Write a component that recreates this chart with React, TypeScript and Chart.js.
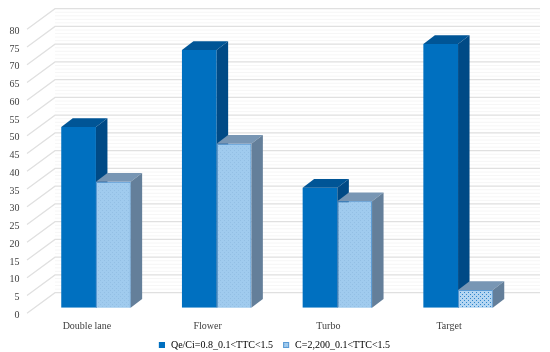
import React, { useEffect, useRef } from "react";
import { Chart, registerables } from "chart.js";

Chart.register(...registerables);

const categories = ["Double lane", "Flower", "Turbo", "Target"];
const seriesA = [50.9, 72.6, 33.8, 74.3];
const seriesB = [35.5, 46.2, 30, 5];
const seriesALabel = "Qe/Ci=0.8_0.1<TTC<1.5";
const seriesBLabel = "C=2,200_0.1<TTC<1.5";

const DX = 11.5;
const DY = 8.7;
const WALL_DX = 28;
const WALL_DY = 15;

function makePattern(bg: string, fg: string, size: number) {
  const c = document.createElement("canvas");
  c.width = size;
  c.height = size;
  const g = c.getContext("2d")!;
  g.fillStyle = bg;
  g.fillRect(0, 0, size, size);
  g.fillStyle = fg;
  g.fillRect(0, 0, 1, 1);
  if (size > 1) g.fillRect(size / 2, size / 2, 1, 1);
  return g.createPattern(c, "repeat")!;
}

const wallPlugin = {
  id: "wall",
  afterLayout(chart: any) {
    // x labels sit below the short axis box; keep them out of its clip region
    chart.scales.x.bottom = chart.scales.x.top + 30;
  },
  beforeDatasetsDraw(chart: any) {
    const { ctx, scales } = chart;
    const y = scales.y;
    const x0 = 27;
    const x1 = x0 + WALL_DX;
    const x2 = 540;
    ctx.save();
    ctx.lineWidth = 1;
    for (let v = 0; v <= 80; v += 5) {
      const py = y.getPixelForValue(v) - WALL_DY;
      if (v < 80) {
        ctx.strokeStyle = "#f6f6f6";
        for (let m = 1; m < 5; m++) {
          const my = py - (m * 17.75) / 5;
          ctx.beginPath();
          ctx.moveTo(x1, my);
          ctx.lineTo(x2, my);
          ctx.stroke();
        }
      }
      ctx.strokeStyle = "#e0e0e0";
      ctx.lineWidth = 1.3;
      ctx.beginPath();
      ctx.moveTo(x0, py + 20.5);
      ctx.lineTo(x1, py);
      ctx.lineTo(x2, py);
      ctx.stroke();
      ctx.lineWidth = 1;
    }
    ctx.restore();
  },
};

const depthPlugin = {
  id: "depth",
  afterDatasetsDraw(chart: any) {
    const { ctx } = chart;
    const sides = ["#004a86", "#647f9a"];
    const tops = ["#005596", "#7896b4"];
    ctx.save();
    [0, 1].forEach((ds) => {
      chart.getDatasetMeta(ds).data.forEach((b: any) => {
        const hw = b.width / 2;
        const l = b.x - hw;
        const r = b.x + hw;
        ctx.fillStyle = tops[ds];
        ctx.beginPath();
        ctx.moveTo(l, b.y);
        ctx.lineTo(l + DX, b.y - DY);
        ctx.lineTo(r + DX, b.y - DY);
        ctx.lineTo(r, b.y);
        ctx.closePath();
        ctx.fill();
        ctx.fillStyle = sides[ds];
        ctx.beginPath();
        ctx.moveTo(r, b.y);
        ctx.lineTo(r + DX, b.y - DY);
        ctx.lineTo(r + DX, b.base - DY);
        ctx.lineTo(r, b.base);
        ctx.closePath();
        ctx.fill();
      });
    });
    chart.getDatasetMeta(1).data.forEach((b: any) => b.draw(ctx));
    ctx.restore();
  },
};

// The legend's own swatch is only 2px wide, so the text sits close to its square; the visible square is drawn here.
const legendSwatchPlugin = {
  id: "legendSwatch",
  afterDraw(chart: any) {
    const { ctx, legend } = chart;
    const fills = chart.options.plugins.legendSwatch.fills;
    const strokes = chart.options.plugins.legendSwatch.strokes;
    ctx.save();
    legend.legendHitBoxes.forEach((h: any, i: number) => {
      const cy = Math.round(h.top + h.height / 2);
      ctx.fillStyle = fills[i];
      ctx.fillRect(h.left - 5, cy - 3, 6, 6);
      ctx.strokeStyle = strokes[i];
      ctx.lineWidth = 1;
      ctx.strokeRect(h.left - 4.5, cy - 2.5, 5, 5);
    });
    ctx.restore();
  },
};

export default function App() {
  const ref = useRef<HTMLCanvasElement>(null);
  useEffect(() => {
    document.body.style.margin = "0";
    const light = makePattern("#a0cbee", "#93bfe4", 4);
    const dense = makePattern("#b4d6f2", "#2f86cc", 4);
    const chart = new Chart(ref.current!, {
      type: "bar",
      data: {
        labels: categories,
        datasets: [
          {
            label: seriesALabel,
            data: seriesA,
            backgroundColor: "#0070c0",
            categoryPercentage: 0.575,
            barPercentage: 1,
          },
          {
            label: seriesBLabel,
            data: seriesB,
            backgroundColor: [light, light, light, dense],
            borderColor: "#5b9bd5",
            borderWidth: 1,
            categoryPercentage: 0.575,
            barPercentage: 1,
          },
        ],
      } as any,
      options: {
        responsive: false,
        animation: false,
        layout: { padding: { left: 4, right: 0, top: 23.7, bottom: -8 } },
        plugins: {
          title: { display: false },
          tooltip: { enabled: false },
          legendSwatch: { fills: ["#0070c0", light], strokes: ["#0070c0", "#5b9bd5"] },
          legend: {
            position: "bottom",
            labels: {
              boxWidth: 2,
              boxHeight: 7,
              padding: 15,
              color: "#404040",
              font: { family: "Liberation Serif", size: 10 },
              generateLabels: () => [
                { text: seriesALabel, fillStyle: "rgba(0,0,0,0)", strokeStyle: "rgba(0,0,0,0)", lineWidth: 0, datasetIndex: 0 },
                { text: seriesBLabel, fillStyle: "rgba(0,0,0,0)", strokeStyle: "rgba(0,0,0,0)", lineWidth: 0, datasetIndex: 1 },
              ],
            },
          },
        },
        scales: {
          x: {
            grid: { display: false, drawTicks: false },
            border: { display: false },
            afterFit(s: any) {
              s.height = 17.3;
            },
            ticks: {
              color: "#404040",
              padding: 13,
              labelOffset: -9,
              maxRotation: 0,
              font: { family: "Liberation Serif", size: 10 },
            },
          },
          y: {
            min: 0,
            max: 80,
            grid: { display: false, drawTicks: false },
            border: { display: false },
            afterFit(s: any) {
              s.width = 31.6;
            },
            ticks: {
              stepSize: 5,
              color: "#404040",
              padding: 16,
              labelOffset: 7.5,
              font: { family: "Liberation Serif", size: 10 },
            },
          },
          spacer: {
            position: "right",
            min: 0,
            max: 1,
            grid: { display: false, drawTicks: false },
            border: { display: false },
            ticks: { display: false },
            afterFit(s: any) {
              s.width = 31.6;
            },
          },
        },
      },
      plugins: [wallPlugin, depthPlugin, legendSwatchPlugin],
    } as any);
    return () => chart.destroy();
  }, []);
  return <canvas ref={ref} width={550} height={352} style={{ display: "block" }} />;
}
